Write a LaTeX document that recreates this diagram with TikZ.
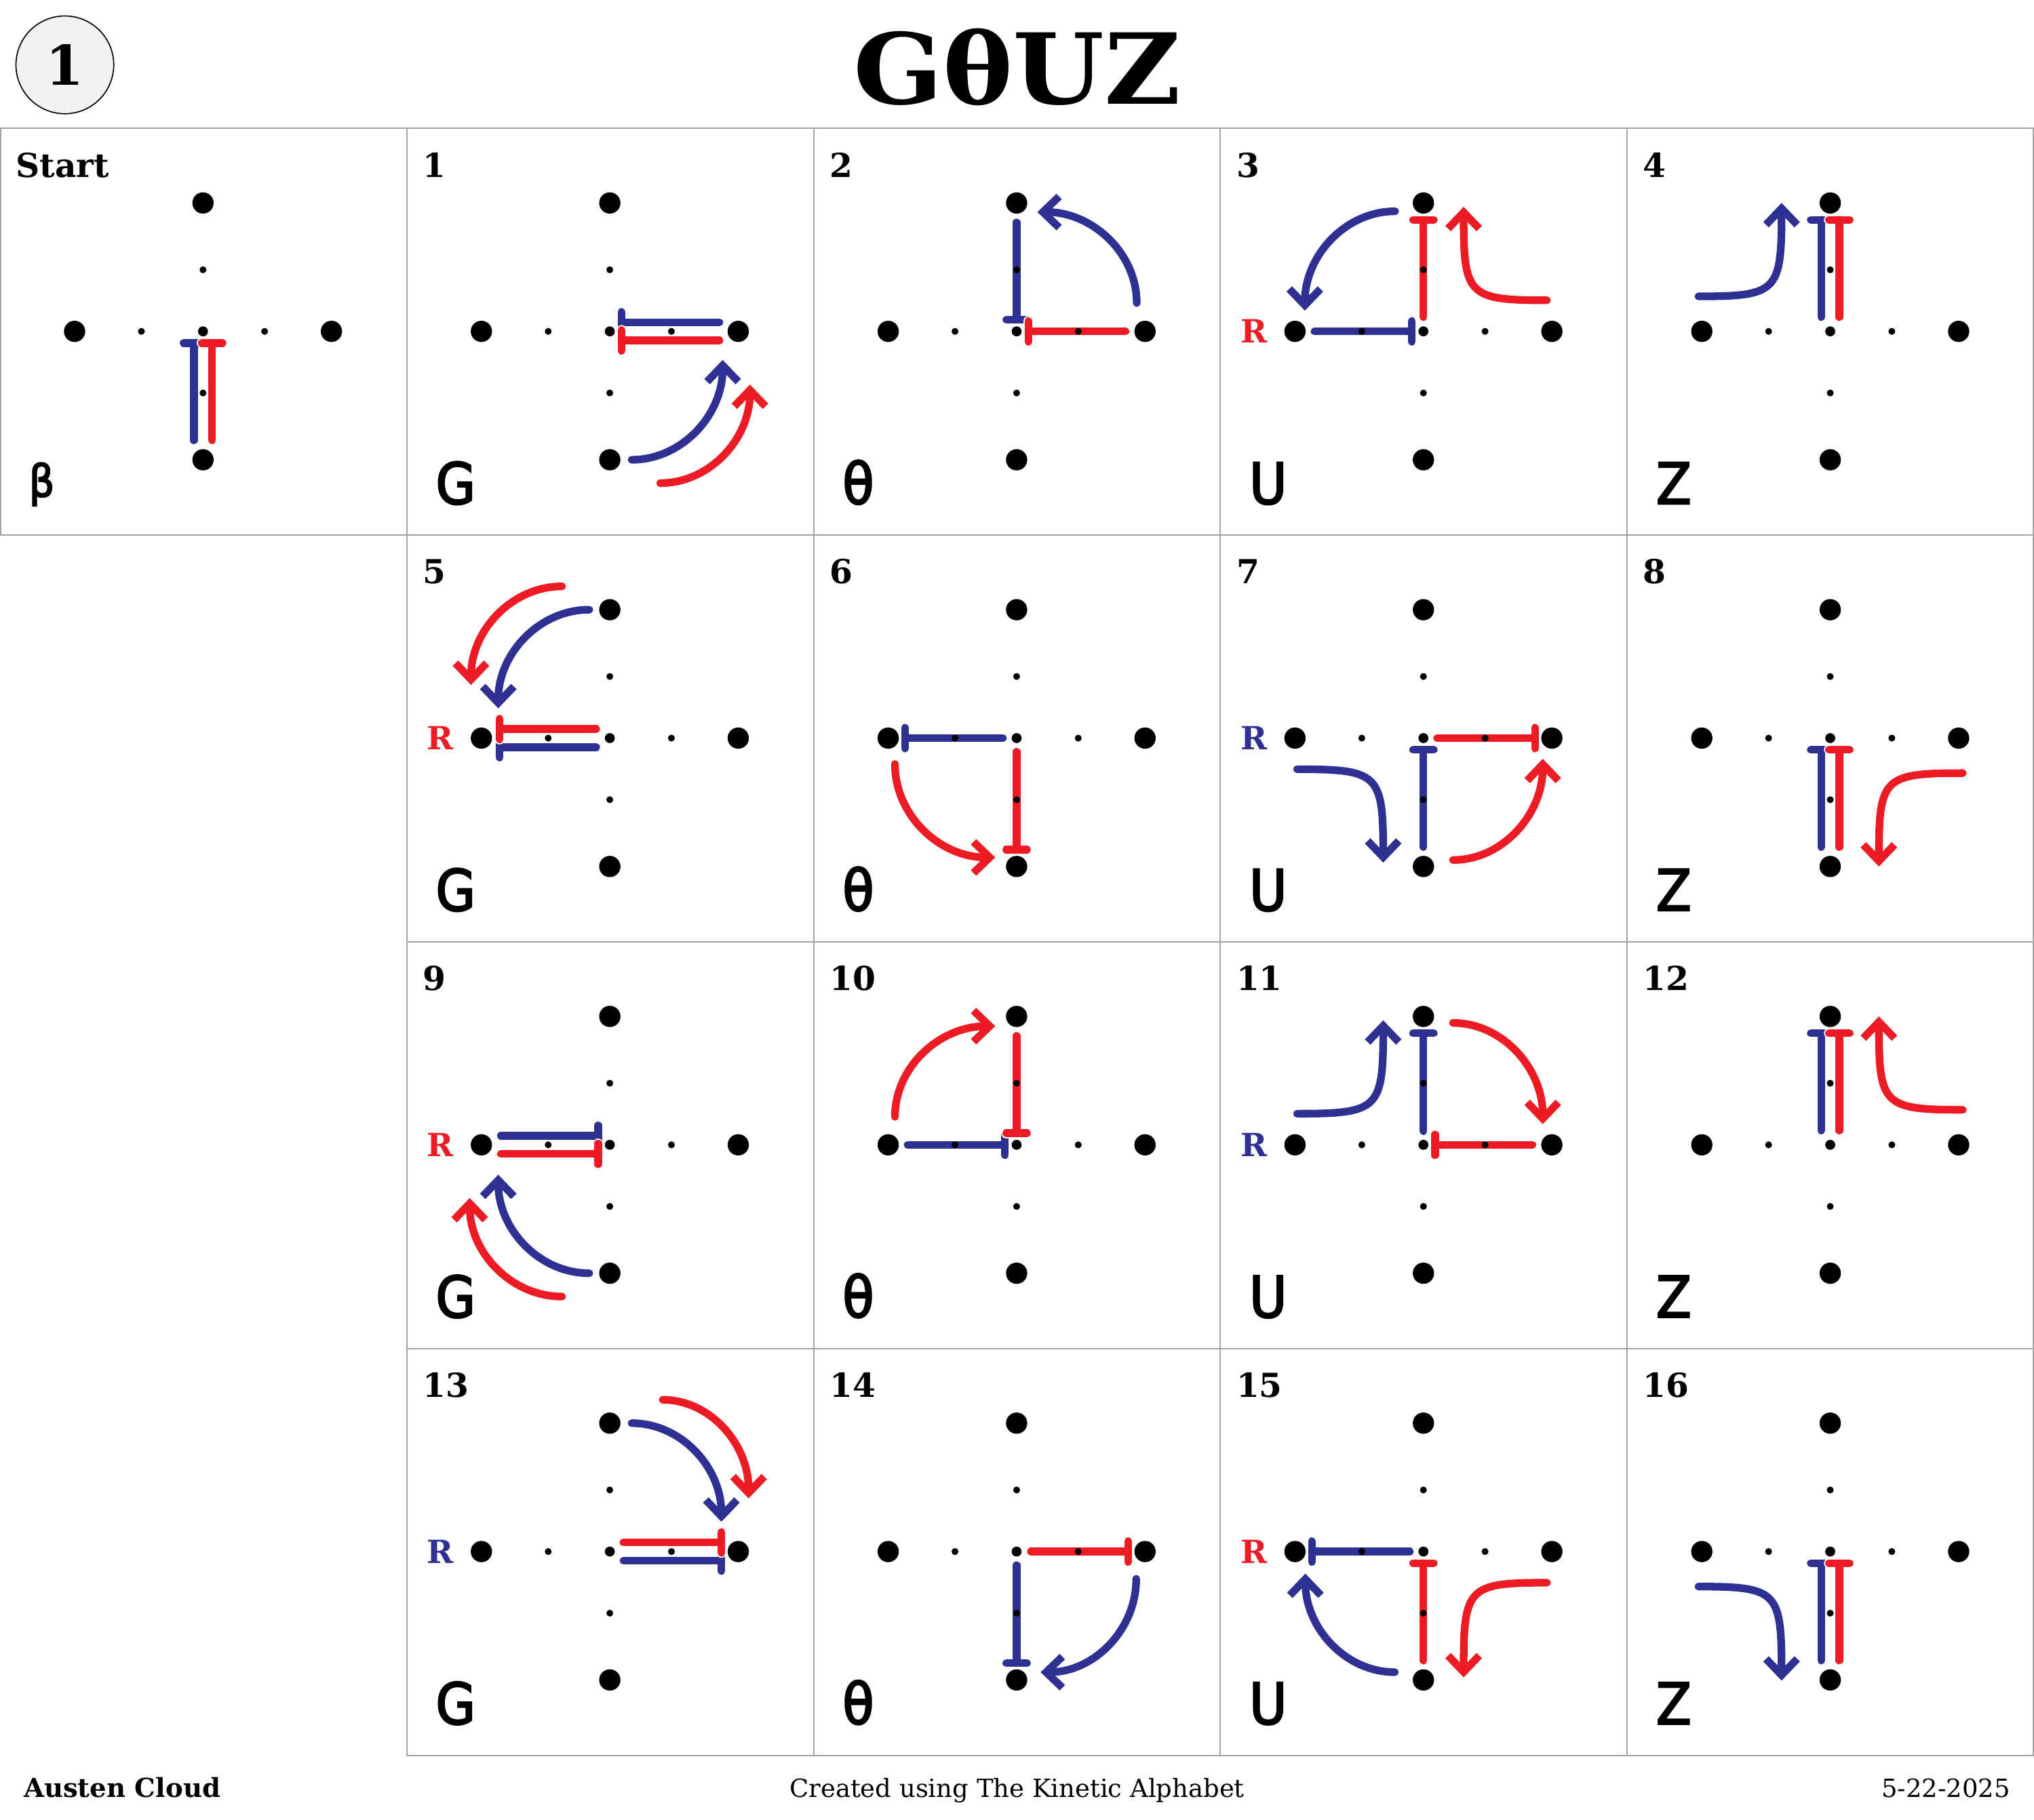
\documentclass[tikz,border=0pt]{standalone}
\usepackage{fontspec}
\setmainfont{DejaVu Serif}
\newfontfamily\kletterfont[FakeBold=3,FakeStretch=0.9]{DejaVu Sans}
\newfontfamily\ktitlefont[FakeStretch=1.07]{DejaVu Serif}
\usetikzlibrary{arrows.meta,calc}
\definecolor{kblue}{HTML}{2E3192}
\definecolor{kred}{HTML}{ED1C24}
\definecolor{kgrid}{HTML}{A3A3A3}
\definecolor{kbadge}{HTML}{F2F2F2}
\tikzset{
  stroke/.style={line width=0.118cm, line cap=round},
  halo/.style={preaction={draw=white, line width=0.155cm, line cap=round}},
  bl/.style={stroke, draw=kblue},
  rd/.style={stroke, draw=kred},
  tip/.style={-{Straight Barb[length=0.25cm,width=0.48cm]}},
  gridline/.style={draw=kgrid, line width=0.6pt},
  numlab/.style={anchor=base west, inner sep=0pt, font=\fontsize{14.5pt}{14.5pt}\selectfont\bfseries},
  letlab/.style={anchor=base west, inner sep=0pt, font=\kletterfont\fontsize{25pt}{25pt}\selectfont},
  rlab/.style={anchor=base, inner sep=0pt, font=\fontsize{14pt}{14pt}\selectfont\bfseries},
}
% arm with T-bar: style, axis coord, T position, plain end
\newcommand\varm[4]{\draw[#1,halo] (#2-8,#3) -- (#2+8,#3) (#2,#3) -- (#2,#4);}
\newcommand\harm[4]{\draw[#1,halo] (#3,#2-8) -- (#3,#2+8) (#3,#2) -- (#4,#2);}
% curves: style, x1,y1,x2,y2, corner x, corner y, fraction
\newcommand\kcurve[8]{\draw[#1] (#2,#3) .. controls ($(#2,#3)!#8!(#6,#7)$) and ($(#4,#5)!#8!(#6,#7)$) .. (#4,#5);}
\newcommand\karch[5]{\kcurve{#1}{#2}{#3}{#4}{#5}{#4}{#3}{0.552}}
\newcommand\karcv[5]{\kcurve{#1}{#2}{#3}{#4}{#5}{#2}{#5}{0.552}}
\newcommand\khook[5]{\kcurve{#1}{#2}{#3}{#4}{#5}{#4}{#3}{0.95}}
\newcommand\kdots{%
  \fill (0,-99) circle[radius=0.164cm] (0,99) circle[radius=0.164cm]
        (-99,0) circle[radius=0.164cm] (99,0) circle[radius=0.164cm];
  \fill (0,-47.5) circle[radius=0.053cm] (0,47.5) circle[radius=0.053cm]
        (-47.5,0) circle[radius=0.053cm] (47.5,0) circle[radius=0.053cm];
  \fill (0,0) circle[radius=0.077cm];}
\newcommand\klabels[3]{\node[numlab] (num#1) at (-144.5,-119) {#2};
  \node[letlab] (let#1) at (-134.5,133) {#3};}

\begin{document}
\begin{tikzpicture}[x=0.02cm, y=-0.02cm]
\useasboundingbox (0,0) rectangle (1568,1403);
\fill[white] (0,0) rectangle (1568,1403);

% grid
\draw[gridline] (0,99) -- (1568,99);
\draw[gridline] (0,412.6) -- (1568,412.6);
\draw[gridline] (313.6,726.2) -- (1568,726.2);
\draw[gridline] (313.6,1039.8) -- (1568,1039.8);
\draw[gridline] (313.6,1353.4) -- (1568,1353.4);
\draw[gridline] (0.4,99) -- (0.4,412.6);
\foreach \gx in {313.6,627.2,940.8,1254.4} \draw[gridline] (\gx,99) -- (\gx,1353.4);
\draw[gridline] (1567.5,99) -- (1567.5,1353.4);

% header
\node[circle, draw=black, line width=0.5pt, fill=kbadge, minimum size=1.508cm, inner sep=0pt,
      font=\fontsize{24pt}{24pt}\selectfont\bfseries] (badge) at (50,50) {1};
\node[anchor=base, inner sep=0pt, font=\ktitlefont\fontsize{43pt}{43pt}\selectfont\bfseries] (title) at (784,80) {GθUZ};

% footer
\node[anchor=base west, inner sep=0pt, font=\fontsize{11.5pt}{11.5pt}\selectfont\bfseries] (author) at (18,1386) {Austen Cloud};
\node[anchor=base, inner sep=0pt, font=\fontsize{11pt}{11pt}\selectfont] (credit) at (784,1386) {Created using The Kinetic Alphabet};
\node[anchor=base east, inner sep=0pt, font=\fontsize{11pt}{11pt}\selectfont] (date) at (1550,1386) {5-22-2025};

% Start
\begin{scope}[shift={(156.5,255.5)}]
  \varm{bl}{-7}{9}{84}
  \varm{rd}{7}{9}{84}
  \kdots
  \node[numlab] (num0) at (-144.5,-119) {Start};
  \node[letlab, font=\kletterfont\fontsize{19.5pt}{19.5pt}\selectfont] (let0) at (-134.5,127.5) {β};
\end{scope}

% 1
\begin{scope}[shift={(470.1,255.5)}]
  \harm{bl}{-7}{9}{84.5}
  \harm{rd}{7}{9}{84.5}
  \karch{bl,tip}{16.8}{99}{87}{22}
  \karch{rd,tip}{38.8}{117}{108}{41}
  \kdots
  \klabels{1}{1}{G}
\end{scope}

% 2
\begin{scope}[shift={(783.7,255.5)}]
  \varm{bl}{0}{-9}{-84}
  \harm{rd}{0}{9}{84}
  \karcv{bl,tip}{92.6}{-21.8}{16}{-92}
  \kdots
  \klabels{2}{2}{θ}
\end{scope}

% 3
\begin{scope}[shift={(1097.3,255.5)}]
  \harm{bl}{0}{-9}{-84}
  \varm{rd}{0}{-86}{-11}
  \karch{bl,tip}{-21.8}{-92.6}{-91.4}{-16}
  \khook{rd,tip}{95.2}{-24}{31}{-96}
  \kdots
  \node[rlab, text=kred] (r3) at (-130.5,9) {R};
  \klabels{3}{3}{U}
\end{scope}

% 4
\begin{scope}[shift={(1410.9,255.5)}]
  \varm{bl}{-7}{-86}{-11}
  \varm{rd}{7}{-86}{-11}
  \khook{bl,tip}{-101.6}{-27}{-37.5}{-99}
  \kdots
  \klabels{4}{4}{Z}
\end{scope}

% 5
\begin{scope}[shift={(470.1,569.1)}]
  \harm{bl}{7}{-85}{-10.5}
  \harm{rd}{-7}{-85}{-10.5}
  \karch{rd,tip}{-36.8}{-117}{-107}{-41}
  \karch{bl,tip}{-15.8}{-99}{-86}{-23}
  \kdots
  \node[rlab, text=kred] (r5) at (-130.5,9) {R};
  \klabels{5}{5}{G}
\end{scope}

% 6
\begin{scope}[shift={(783.7,569.1)}]
  \harm{bl}{0}{-86}{-10.5}
  \varm{rd}{0}{86}{10.5}
  \karcv{rd,tip}{-93.8}{20}{-16.5}{92}
  \kdots
  \klabels{6}{6}{θ}
\end{scope}

% 7
\begin{scope}[shift={(1097.3,569.1)}]
  \varm{bl}{0}{9}{84}
  \harm{rd}{0}{86}{10.5}
  \khook{bl,tip}{-97.4}{24}{-31}{96}
  \karch{rd,tip}{22.7}{94}{92}{16}
  \kdots
  \node[rlab, text=kblue] (r7) at (-130.5,9) {R};
  \klabels{7}{7}{U}
\end{scope}

% 8
\begin{scope}[shift={(1410.9,569.1)}]
  \varm{bl}{-7}{9}{84}
  \varm{rd}{7}{9}{84}
  \khook{rd,tip}{102.2}{27}{37.5}{99}
  \kdots
  \klabels{8}{8}{Z}
\end{scope}

% 9
\begin{scope}[shift={(470.1,882.7)}]
  \harm{bl}{-7}{-9}{-84}
  \harm{rd}{7}{-9}{-84}
  \karch{bl,tip}{-15.8}{99}{-86}{23}
  \karch{rd,tip}{-36.8}{117}{-108}{41}
  \kdots
  \node[rlab, text=kred] (r9) at (-130.5,9) {R};
  \klabels{9}{9}{G}
\end{scope}

% 10
\begin{scope}[shift={(783.7,882.7)}]
  \harm{bl}{0}{-9}{-84}
  \varm{rd}{0}{-9}{-84}
  \karcv{rd,tip}{-93.8}{-21.6}{-16.5}{-91.5}
  \kdots
  \klabels{10}{10}{θ}
\end{scope}

% 11
\begin{scope}[shift={(1097.3,882.7)}]
  \varm{bl}{0}{-86}{-10.5}
  \harm{rd}{0}{9}{84}
  \khook{bl,tip}{-97.4}{-24}{-31}{-96}
  \karch{rd,tip}{22.7}{-94}{92}{-16}
  \kdots
  \node[rlab, text=kblue] (r11) at (-130.5,9) {R};
  \klabels{11}{11}{U}
\end{scope}

% 12
\begin{scope}[shift={(1410.9,882.7)}]
  \varm{bl}{-7}{-86}{-11}
  \varm{rd}{7}{-86}{-11}
  \khook{rd,tip}{102.2}{-27}{37.5}{-99}
  \kdots
  \klabels{12}{12}{Z}
\end{scope}

% 13
\begin{scope}[shift={(470.1,1196.3)}]
  \harm{bl}{7}{86}{10.5}
  \harm{rd}{-7}{86}{10.5}
  \karch{bl,tip}{16.8}{-99}{86}{-23}
  \karch{rd,tip}{40.8}{-117}{107}{-41}
  \kdots
  \node[rlab, text=kblue] (r13) at (-130.5,9) {R};
  \klabels{13}{13}{G}
\end{scope}

% 14
\begin{scope}[shift={(783.7,1196.3)}]
  \varm{bl}{0}{86}{10.5}
  \harm{rd}{0}{86}{11}
  \karcv{bl,tip}{92.2}{21}{18.5}{93}
  \kdots
  \klabels{14}{14}{θ}
\end{scope}

% 15
\begin{scope}[shift={(1097.3,1196.3)}]
  \harm{bl}{0}{-86}{-10.5}
  \varm{rd}{0}{9}{84}
  \karch{bl,tip}{-22}{93}{-91}{17}
  \khook{rd,tip}{95.2}{24}{31}{97}
  \kdots
  \node[rlab, text=kred] (r15) at (-130.5,9) {R};
  \klabels{15}{15}{U}
\end{scope}

% 16
\begin{scope}[shift={(1410.9,1196.3)}]
  \varm{bl}{-7}{9}{84}
  \varm{rd}{7}{9}{84}
  \khook{bl,tip}{-101.6}{27}{-37.5}{99.5}
  \kdots
  \klabels{16}{16}{Z}
\end{scope}
\end{tikzpicture}
\end{document}
